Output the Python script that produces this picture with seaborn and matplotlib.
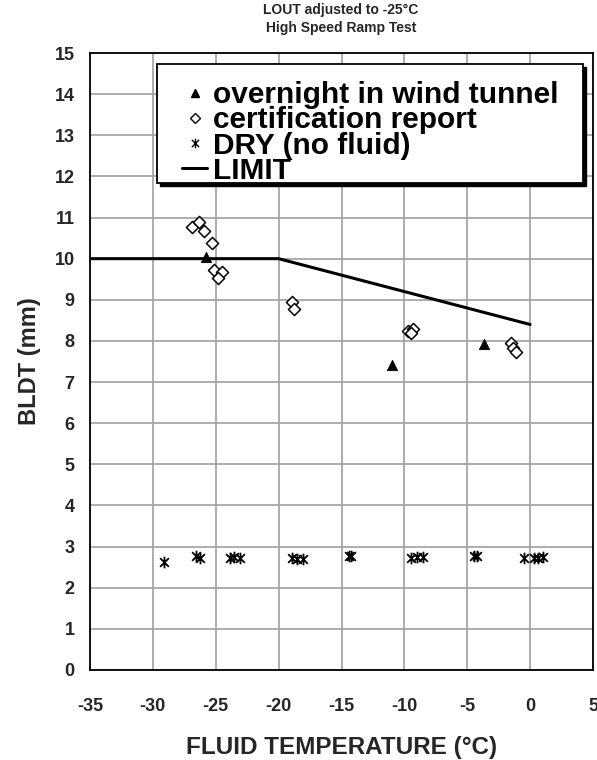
import numpy as np
import pandas as pd
import matplotlib
matplotlib.use("Agg")
import matplotlib.pyplot as plt
import seaborn as sns
from matplotlib.path import Path
from matplotlib.lines import Line2D
from matplotlib.patches import Rectangle

# ---- data ----
wind_x = [-25.8, -11.0, -3.7]
wind_y = [10.05, 7.42, 7.92]

cert_x = [-26.9, -26.3, -25.9, -25.3, -25.1, -24.5, -24.8, -18.9, -18.8, -9.7, -9.35, -9.5, -1.5, -1.4, -1.15]
cert_y = [10.78, 10.9, 10.67, 10.38, 9.72, 9.68, 9.53, 8.95, 8.78, 8.25, 8.29, 8.2, 7.96, 7.83, 7.72]

dry_x = [-29.1, -26.6, -26.25, -23.9, -23.55, -23.1, -18.9, -18.5, -18.1, -14.4, -14.25,
         -9.5, -9.0, -8.5, -4.5, -4.25, -0.5, 0.3, 0.6, 1.0]
dry_y = [2.63, 2.77, 2.73, 2.72, 2.74, 2.73, 2.72, 2.7, 2.7, 2.77, 2.76,
         2.72, 2.74, 2.74, 2.76, 2.76, 2.72, 2.73, 2.73, 2.74]

limit_x = [-35, -20, 0]
limit_y = [10.0, 10.0, 8.4]

labels = ["overnight in wind tunnel", "certification report", "DRY (no fluid)", "LIMIT"]
title_lines = ["LOUT adjusted to -25°C", "High Speed Ramp Test"]
x_ticks = [-35, -30, -25, -20, -15, -10, -5, 0, 5]
y_ticks = list(range(0, 16))

sns.set_style("white")
plt.rcParams['font.family'] = ['Liberation Sans', 'DejaVu Sans']
plt.rcParams['font.weight'] = 'bold'

fig = plt.figure(figsize=(5.97, 7.6), dpi=100)
ax = fig.add_axes([90/597, 1-670/760, 503/597, 617/760])

star = Path([(0, -1), (0, 1), (-0.75, -0.75), (0.75, 0.75), (-0.75, 0.75), (0.75, -0.75)],
            [Path.MOVETO, Path.LINETO, Path.MOVETO, Path.LINETO, Path.MOVETO, Path.LINETO])

df_w = pd.DataFrame({"x": wind_x, "y": wind_y})
df_c = pd.DataFrame({"x": cert_x, "y": cert_y})
df_d = pd.DataFrame({"x": dry_x, "y": dry_y})
df_l = pd.DataFrame({"x": limit_x, "y": limit_y})

sns.lineplot(data=df_l, x="x", y="y", ax=ax, color="black", linewidth=2.2, zorder=3)
sns.scatterplot(data=df_w, x="x", y="y", ax=ax, marker="^", s=55, color="black",
                edgecolor="black", zorder=4)
sns.scatterplot(data=df_c, x="x", y="y", ax=ax, marker="D", s=38, facecolor="white",
                edgecolor="black", linewidth=1.1, zorder=4)
ax.scatter(df_d["x"], df_d["y"], marker=star, s=70, color="black", linewidths=1.3, zorder=4)

ax.set_xlim(-35, 5)
ax.set_ylim(0, 15)
ax.set_xticks(x_ticks)
ax.set_yticks(y_ticks)
ax.set_xticklabels([str(t) for t in x_ticks], fontsize=13, fontweight='bold')
ax.set_yticklabels([str(t) for t in y_ticks], fontsize=13, fontweight='bold')
ax.grid(True, color="#a0a0a0", linewidth=1.2)
ax.set_axisbelow(True)
for s in ax.spines.values():
    s.set_color("black")
    s.set_linewidth(1.3)
    s.set_visible(True)
ax.tick_params(axis='both', direction='out', length=6, width=1.0, color='black', pad=14)
ax.tick_params(axis='y', pad=5)

ax.set_xlabel("FLUID TEMPERATURE (°C)", fontsize=17.5, fontweight='bold', labelpad=15)
ax.set_ylabel("BLDT (mm)", fontsize=17, fontweight='bold', labelpad=10)

fig.text(341/597, 1-10/760, title_lines[0], ha='center', va='center', fontsize=10, fontweight='bold')
fig.text(341/597, 1-28/760, title_lines[1], ha='center', va='center', fontsize=10, fontweight='bold')

# legend frame with shadow (axes coordinates)
bx0, by0, bw, bh = (157-90)/503, (670-183)/617, 426/503, 119/617
sh = Rectangle((bx0 + 3/503, by0 - 3/617), bw, bh, transform=ax.transAxes,
               facecolor='black', edgecolor='black', zorder=5)
fr = Rectangle((bx0, by0), bw, bh, transform=ax.transAxes,
               facecolor='white', edgecolor='black', linewidth=1.3, zorder=6)
ax.add_patch(sh)
ax.add_patch(fr)

handles = [
    Line2D([], [], linestyle='none', marker='^', color='black', markersize=6),
    Line2D([], [], linestyle='none', marker='D', markerfacecolor='white', markeredgecolor='black',
           markersize=5, markeredgewidth=1.0),
    Line2D([], [], linestyle='none', marker=star, color='black', markersize=7, markeredgewidth=1.0),
    Line2D([], [], color='black', linewidth=2.2),
]
leg = ax.legend(handles, labels, loc='upper left', bbox_to_anchor=((173-90)/503, (670-72)/617),
                borderaxespad=0, fontsize=21.5, labelspacing=-0.09, handlelength=0.85,
                handletextpad=0.2, borderpad=0.3, frameon=False)
leg.set_zorder(7)
for t in leg.get_texts():
    t.set_fontweight('bold')
    t.set_color('black')

fig.savefig("out.png", dpi=100)
